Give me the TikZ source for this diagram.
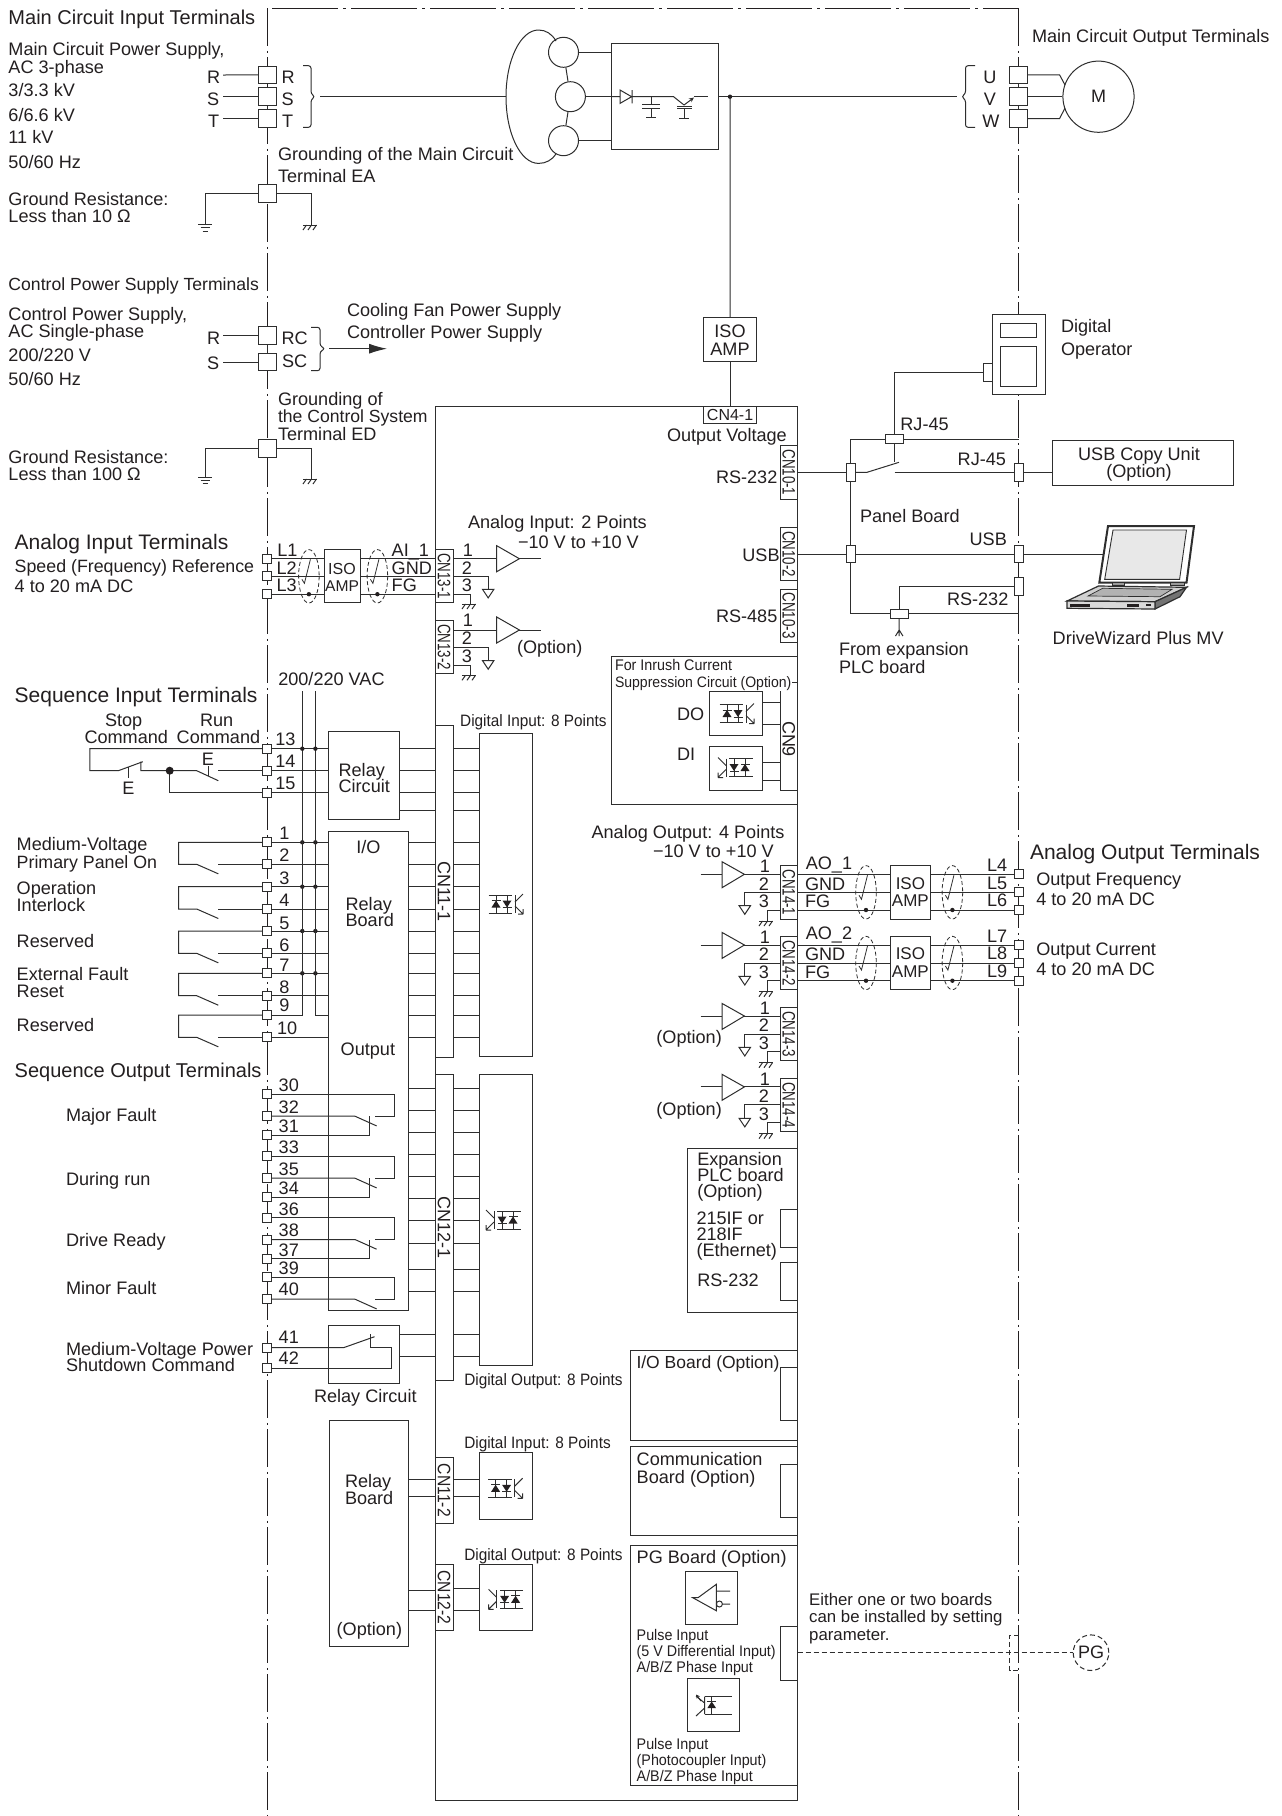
\documentclass[tikz,border=0pt]{standalone}
\usepackage{fontspec}
\usetikzlibrary{fit,arrows.meta}
\setmainfont{Liberation Sans}
\newfontfamily\fnarrow{Liberation Sans}[FakeStretch=.93]
\definecolor{ink}{HTML}{231F20}
\definecolor{wire}{HTML}{2E2E2E}
\newcounter{lc}
\tikzset{
  lbl/.style={anchor=base west,inner sep=0pt,outer sep=0pt,text=ink,font=\fontsize{18.1}{18}\selectfont},
  ctr/.style={anchor=base},
  big/.style={font=\fontsize{20}{20}\selectfont},
  bigger/.style={font=\fontsize{21}{21}\selectfont},
  mid/.style={font=\fontsize{16.8}{17}\selectfont},
  narrow/.style={font=\fnarrow\fontsize{15.4}{16}\selectfont},
  narrowb/.style={font=\fnarrow\fontsize{16.5}{17}\selectfont},
  bx/.style={draw=wire,line width=1pt,inner sep=0pt,outer sep=0pt},
  tbig/.style={draw=wire,line width=1pt,fill=white,minimum width=18pt,minimum height=17.6pt,inner sep=0pt,outer sep=0pt},
  tsm/.style={draw=wire,line width=1pt,fill=white,minimum width=9pt,minimum height=9pt,inner sep=0pt,outer sep=0pt},
  tpan/.style={draw=wire,line width=1pt,fill=white,minimum width=9pt,minimum height=17.7pt,inner sep=0pt,outer sep=0pt},
  tflat/.style={draw=wire,line width=1pt,fill=white,minimum width=18pt,minimum height=9pt,inner sep=0pt,outer sep=0pt},
  framev/.style={draw=ink,line width=1.3pt,dash pattern=on 38pt off 4.5pt on 2pt off 4.5pt},
  frameh/.style={draw=ink,line width=1.3pt,dash pattern=on 66pt off 5pt on 3pt off 5pt},
  longdash/.style={dash pattern=on 5pt off 3pt},
}
\newcommand\lab[4][]{\stepcounter{lc}\node[lbl,#1] (lab\arabic{lc}) at (#2,#3) {#4};}
\newcommand\bxn[5]{\node[bx,fit={(#2,#3)(#4,#5)}] (#1) {};}
\newcommand\cnbox[7]{\bxn{#1}{#2}{#3}{#4}{#5}\stepcounter{lc}\node[inner sep=0pt,rotate=-90,text=ink,font=\fontsize{18}{18}\selectfont] (lab\arabic{lc}) at (#1.center) {\scalebox{#7}[1]{#6}};}
\newcommand\bracer[6]{\draw[rounded corners=2.5pt] (#1,#4)--(#2,#4)--(#2,{#5-3})--(#3,#5)--(#2,{#5+3})--(#2,#6)--(#1,#6);}
\newcommand\gndhatch[2]{\draw (#1-7,#2)--(#1+7,#2);\foreach \k in {-5,0,5}{\draw (#1+\k+1.5,#2)--(#1+\k-2,#2+5);}}
\newcommand\gndtri[2]{\draw (#1-5.7,#2)--(#1+5.7,#2)--(#1,#2+8.6)--cycle;}
\newcommand\gndbars[2]{\draw (#1-7,#2)--(#1+7,#2) (#1-4.5,#2+3)--(#1+4.5,#2+3) (#1-2.5,#2+6.5)--(#1+2.5,#2+6.5);}
\newcommand\shield[3]{\draw[dash pattern=on 4pt off 2.5pt,line width=.8pt] (#1,#2) ellipse (10.3 and 26.7);
  \draw[line width=.8pt] (#1-7,#2+3)--(#1-4.5,#2+7)--(#1+1.5,#2-17);
  \fill (#1,#3) circle (2.2);}
% opto coupler: diodes and transistor
\newcommand\optoA[2]{\begin{scope}[shift={(#1,#2)}]
  \draw (-17.5,-9)--(6,-9) (-17.5,9)--(6,9) (-10,-9)--(-10,9) (1,-9)--(1,9) (9,-9)--(9,9);
  \fill (-10,-3.5)--(-5.5,3.5)--(-14.5,3.5)--cycle;
  \fill (1,3.5)--(5.5,-3.5)--(-3.5,-3.5)--cycle;
  \draw (-14.5,-3.5)--(-5.5,-3.5) (-3.5,3.5)--(5.5,3.5);
  \draw (9,-2)--(17,-10) (9,2)--(17,10) (17,10)--(17,5) (17,10)--(12,10);
  \end{scope}}
\newcommand\optoB[2]{\begin{scope}[shift={(#1,#2)},xscale=-1]
  \draw (-17.5,-9)--(6,-9) (-17.5,9)--(6,9) (-10,-9)--(-10,9) (1,-9)--(1,9) (9,-9)--(9,9);
  \fill (-10,-3.5)--(-5.5,3.5)--(-14.5,3.5)--cycle;
  \fill (1,3.5)--(5.5,-3.5)--(-3.5,-3.5)--cycle;
  \draw (-14.5,-3.5)--(-5.5,-3.5) (-3.5,3.5)--(5.5,3.5);
  \draw (9,-2)--(17,-10) (9,2)--(17,10) (17,10)--(17,5) (17,10)--(12,10);
  \end{scope}}
% analog output channel: amplifier, wires and connector
\newcommand\aochan[2]{\begin{scope}[shift={(0,#1)}]
  \draw (722,861.7)--(744.4,874.3)--(722,887.7)--cycle;
  \draw (700.6,874.3)--(722,874.3) (744.4,874.3)--(780,874.3);
  \draw (780,892.3)--(744.4,892.3)--(744.4,905.7);
  \gndtri{744.8}{905.7}
  \draw (780,910)--(767.7,910)--(767.7,921);
  \gndhatch{766}{921}
  \lab[ctr]{765}{872.6}{1}\lab[ctr]{764}{890}{2}\lab[ctr]{764}{907.7}{3}
  \cnbox{cnao#2}{780}{865.7}{797.6}{919}{CN14-#2}{.74}
  \end{scope}}
% isolated analog output wiring
\newcommand\aoline[8]{\begin{scope}[shift={(0,#1)}]
  \bxn{isoao#2}{890.6}{865.7}{930.3}{919}
  \lab[ctr,font=\fontsize{17}{17}\selectfont]{910.4}{889}{ISO}
  \lab[ctr,font=\fontsize{17}{17}\selectfont]{910.4}{906.7}{AMP}
  \node[tsm] (#6) at (1019,874.4) {};
  \node[tsm] (#7) at (1019,892.3) {};
  \node[tsm] (#8) at (1019,910) {};
  \draw (797.6,874.4)--(isoao#2.west |- #6);
  \draw (797.6,892.3)--(isoao#2.west |- #7);
  \draw (797.6,910)--(isoao#2.west |- #8);
  \draw (isoao#2.east |- #6)--(#6);
  \draw (isoao#2.east |- #7)--(#7);
  \draw (isoao#2.east |- #8)--(#8);
  \shield{866}{892.3}{910}
  \shield{952.4}{892.3}{910}
  \lab{805.8}{#3}{AO\_#2}
  \lab{805}{890}{GND}
  \lab{805}{907.7}{FG}
  \lab{987}{871.7}{#4}\lab{987}{889}{#5}
  \end{scope}}
\begin{document}
\begin{tikzpicture}[x=1pt,y=-1pt,line width=1pt,draw=wire,fill=ink]
\useasboundingbox (0,0) rectangle (1282,1816);
\fill[white] (0,0) rectangle (1282,1816);
% ---- enclosure
\draw[frameh] (272,8.3)--(1018.8,8.3);
\draw[framev] (267.3,8.3)--(267.3,1816);
\draw[framev] (1018.8,8.3)--(1018.8,1816);
% ---- main circuit input
\node[tbig] (tR) at (267.3,74.9) {};
\node[tbig] (tS) at (267.3,96.7) {};
\node[tbig] (tT) at (267.3,118.5) {};
\coordinate (lR) at (223,75);\coordinate (lS) at (223,96.7);\coordinate (lT) at (223,118.5);
\draw (lR)--(tR);\draw (lS)--(tS);\draw (lT)--(tT);
\lab{207}{83.3}{R}\lab{207}{105}{S}\lab{208}{127}{T}
\lab{281.5}{83.3}{R}\lab{281.5}{105}{S}\lab{282}{127}{T}
\bracer{303}{311}{315}{65.7}{96.7}{127.3}
\lab[big]{8.5}{24}{Main Circuit Input Terminals}
\lab{8.5}{55}{Main Circuit Power Supply,}
\lab{8.5}{73}{AC 3-phase}
\lab{8.5}{96}{3/3.3 kV}
\lab{8.5}{121}{6/6.6 kV}
\lab{8.5}{143}{11 kV}
\lab{8.5}{168}{50/60 Hz}
\lab{8.5}{205}{Ground Resistance:}
\lab{8.5}{222}{Less than 10 Ω}
% transformer
\node[draw=wire,circle,minimum size=30pt,inner sep=0pt] (c1) at (563.5,52.3) {};
\node[draw=wire,circle,minimum size=30pt,inner sep=0pt] (c2) at (570.4,96.7) {};
\node[draw=wire,circle,minimum size=30pt,inner sep=0pt] (c3) at (563.5,140.7) {};
\draw (c1)--(c2);\draw (c2)--(c3);
\draw (556,41) .. controls (552,34) and (546,30) .. (538.5,30) .. controls (520.5,30) and (506,60) .. (506,96.7) .. controls (506,133.5) and (520.5,163.4) .. (538.5,163.4) .. controls (546,163.4) and (552,160) .. (556,154);
\coordinate (wl) at (320,96.7);\coordinate (wm) at (506,96.7);
\draw (wl)--(wm);
\bxn{conv}{611}{43.7}{718}{149.7}
\draw (c1)--(c1 -| conv.west);\draw (c2)--(c2 -| conv.west);\draw (c3)--(c3 -| conv.west);
% converter symbols
\draw (611,96.7)--(620,96.7) (620,90)--(620,103.4)--(631.6,96.7)--cycle (632,90)--(632,103.4) (632,96.7)--(673.6,96.7)--(684,105);
\draw (651,96.7)--(651,104) (642,104)--(660,104) (642,108.3)--(660,108.3) (651,108.3)--(651,117.3) (646,117.3)--(656,117.3);
\draw (677,106)--(692,106) (677,108.5)--(692,108.5) (684,108.5)--(684,118) (679,118)--(689,118);
\draw[-{Stealth[length=5pt,width=4.5pt]}] (684,105)--(694,97.5);
\draw (694,96.7)--(708,96.7);
\coordinate (wo) at (957,96.7);\coordinate (wj) at (730,96.7);
\draw (718,96.7)--(wo);
\fill (wj) circle (2.2);
% ---- main circuit output
\node[tbig] (tU) at (1018.8,74.9) {};
\node[tbig] (tV) at (1018.8,96.7) {};
\node[tbig] (tW) at (1018.8,118.5) {};
\node[draw=wire,circle,minimum size=71.2pt,inner sep=0pt,text=ink,font=\fontsize{18}{18}\selectfont] (motor) at (1098.5,96.7) {M};
\draw (tU)--(1059.6,74.9)--(1065,85);
\draw (tV)--(motor);
\draw (tW)--(1059.6,118.5)--(1065,108);
\bracer{975}{965.5}{961.5}{65.7}{96.7}{127.3}
\lab[ctr]{990}{83.3}{U}\lab[ctr]{990}{105}{V}\lab[ctr]{991}{127}{W}
\lab{1032}{42.7}{Main Circuit Output Terminals}
% ---- grounding EA
\node[tbig] (tEA) at (267.3,193.7) {};
\coordinate (gl1) at (205,224);\coordinate (gr1) at (311,225);
\draw (tEA)--(tEA -| gl1)--(gl1);\draw (tEA)--(tEA -| gr1)--(gr1);
\gndbars{205}{224.7}\gndhatch{310}{225}
\lab{278}{160.7}{Grounding of the Main Circuit}
\lab{278}{182.3}{Terminal EA}
% ---- control power
\lab[font=\fontsize{17.6}{18}\selectfont]{8.5}{290}{Control Power Supply Terminals}
\lab{8.5}{320.7}{Control Power Supply,}
\lab{8.5}{337.7}{AC Single-phase}
\lab{8.5}{361.7}{200/220 V}
\lab{8.5}{385.7}{50/60 Hz}
\lab{207}{344.3}{R}\lab{207}{369.3}{S}
\node[tbig] (tRC) at (267.3,335.6) {};
\node[tbig] (tSC) at (267.3,362) {};
\coordinate (lRC) at (223,335.6);\coordinate (lSC) at (223,362);
\draw (lRC)--(tRC);\draw (lSC)--(tSC);
\lab{281.5}{344.3}{RC}\lab{282}{367.7}{SC}
\bracer{311}{320}{325}{327.3}{348.7}{370.7}
\coordinate (ca) at (329,348.7);\coordinate (cb) at (387,348.7);
\draw[-{Latex[length=18pt,width=10pt]}] (ca)--(cb);
\lab{347}{316}{Cooling Fan Power Supply}
\lab{347}{338.3}{Controller Power Supply}
% ---- grounding ED
\node[tbig] (tED) at (267.3,448.2) {};
\coordinate (gl2) at (205,476.7);\coordinate (gr2) at (311,479);
\draw (tED)--(tED -| gl2)--(gl2);\draw (tED)--(tED -| gr2)--(gr2);
\gndbars{205}{477}\gndhatch{310}{479}
\lab{278}{405}{Grounding of}
\lab[font=\fontsize{17.6}{18}\selectfont]{278}{422.7}{the Control System}
\lab{278}{440}{Terminal ED}
\lab{8.5}{463.3}{Ground Resistance:}
\lab{8.5}{480.7}{Less than 100 Ω}
% ---- controller enclosure
\bxn{ctrl}{435}{406}{797.6}{1800.7}
\bxn{isoV}{703.5}{317.3}{756.7}{361.7}
\lab[ctr]{730}{337.3}{ISO}\lab[ctr]{730}{355.7}{AMP}
\draw (wj)--(isoV);
\bxn{cnfour}{703.5}{406}{756.7}{423.3}
\stepcounter{lc}\node[text=ink,inner sep=0pt,font=\fontsize{16}{16}\selectfont] (lab\arabic{lc}) at (cnfour.center) {CN4-1};
\draw (isoV)--(cnfour);
\lab{667}{441}{Output Voltage}
\cnbox{cnA}{780}{445.7}{797.6}{499}{CN10-1}{.74}
\cnbox{cnB}{780}{527.3}{797.6}{580.7}{CN10-2}{.74}
\cnbox{cnC}{780}{589}{797.6}{642.3}{CN10-3}{.74}
\lab{716}{483.3}{RS-232}\lab{742.4}{561}{USB}\lab{716}{622.7}{RS-485}
% ---- panel board
\node[tpan] (p1) at (850.5,472.3) {};
\node[tpan] (p2) at (850.5,554) {};
\node[tflat] (rj) at (894.6,439.2) {};
\node[tflat] (pr) at (899.2,613.5) {};
\node[tpan] (u1) at (1019,472.3) {};
\node[tpan] (u2) at (1019,554) {};
\node[tpan] (u3) at (1019,586.7) {};
\coordinate (pa) at (850.5,439.2);\coordinate (pb) at (850.5,613.5);
\coordinate (ua) at (1018.8,439.2);\coordinate (ub) at (1018.8,613.5);
\draw (pa)--(p1);\draw (p1)--(p2);\draw (p2)--(pb)--(pr);
\draw (pa)--(rj);\draw (rj)--(ua);\draw (pr)--(ub);
\draw (cnA.east |- p1)--(p1);\draw (cnB.east |- p2)--(p2);
\draw (p1)--(867,472.3)--(899,462.3);
\draw (894.6,472.3)--(u1);
\draw (p2)--(u2);
\draw (rj)--(894.6,462.3);
\draw (rj)--(894.6,372.3)--(983,372.3);
\draw (u3)--(899.2,586.7)--(pr);
\draw (pr)--(899.2,636) (899.2,630)--(895.5,636) (899.2,630)--(902.9,636);
\lab{860}{522.7}{Panel Board}
\lab{969.6}{545}{USB}
\lab{947}{605}{RS-232}
\lab{839}{655}{From expansion}
\lab{839}{673.3}{PLC board}
\lab{900.4}{430}{RJ-45}
\lab{957.7}{465}{RJ-45}
% ---- digital operator
\node[draw=wire,fill=white,inner sep=0pt,fit={(992,314.3)(1045.3,394.7)}] (dop) {};
\bxn{dopa}{1000.3}{323.3}{1036.3}{337.3}
\bxn{dopb}{1000.3}{346}{1036.3}{386}
\bxn{dopt}{983}{363.3}{992}{381}
\lab{1061}{332.7}{Digital}\lab{1061}{355}{Operator}
% ---- USB copy
\bxn{copy}{1052.3}{440.7}{1233}{485.7}
\lab[ctr]{1139}{460}{USB Copy Unit}\lab[ctr]{1139}{477.7}{(Option)}
\draw (u1)--(u1 -| copy.west);
% ---- laptop
\draw[fill=white,line width=2pt] (1108,526)--(1194,526)--(1186.5,582.7)--(1099.3,582.7)--cycle;
\draw[fill=black!9,line width=.9pt] (1113,530)--(1186.5,530)--(1179.6,579.3)--(1104.7,579.3)--cycle;
\draw[fill=black!40,line width=.7pt] (1112,582.7) rectangle (1124,585.7) (1170,582.7) rectangle (1184,585.7);
\draw[fill=black!18,line width=1.2pt] (1067,601)--(1098.5,586)--(1186.5,587.3)--(1155,601.7)--cycle;
\draw[fill=black!30,line width=.7pt] (1088,596)--(1102.6,588.3)--(1172,589.3)--(1160,596.7)--cycle;
\draw[fill=black!55,line width=1.2pt] (1155,601.7)--(1186.5,587.3)--(1180,596.7)--(1155,609)--cycle;
\draw[fill=black!15,line width=1.2pt] (1067,601)--(1155,601.7)--(1155,609)--(1067,608.3)--cycle;
\fill (1070,603.5) rectangle (1090,607);
\fill (1127,603.5) rectangle (1139,606.5);
\fill (1146,604) rectangle (1151,606);
\draw (u2)--(1103.7,554);
\lab{1052.7}{644}{DriveWizard Plus MV}
% ---- analog input
\lab[bigger]{14.7}{549.3}{Analog Input Terminals}
\lab[font=\fontsize{17.8}{18}\selectfont]{14.7}{572.7}{Speed (Frequency) Reference}
\lab{14.7}{592.7}{4 to 20 mA DC}
\node[tsm] (tL1) at (267.3,558.8) {};
\node[tsm] (tL2) at (267.3,576.4) {};
\node[tsm] (tL3) at (267.3,594.2) {};
\bxn{isoI}{324.4}{549.3}{360}{602.7}
\cnbox{cnIa}{435.3}{549.3}{453}{602.7}{CN13-1}{.74}
\cnbox{cnIb}{435.3}{620.7}{453}{673.3}{CN13-2}{.74}
\foreach \n in {1,2,3}{
  \draw (tL\n)--(tL\n -| isoI.west);
  \draw (tL\n -| isoI.east)--(tL\n -| cnIa.west);
}
\shield{308.9}{576.3}{594.2}
\shield{377.4}{576.3}{594.2}
\lab{277.4}{556.7}{L1}\lab{276.5}{574}{L2}\lab{276.5}{591.7}{L3}
\lab[ctr,font=\fontsize{16}{16}\selectfont]{342}{574}{ISO}\lab[ctr,font=\fontsize{15.6}{16}\selectfont]{342}{591}{AMP}
\lab{391.7}{556.7}{AI\_1}\lab{391.7}{574}{GND}\lab{391.7}{591.7}{FG}
\foreach \dy/\a/\b/\c in {0/556/574/591.7,71.3/626.7/644.3/662.3}{
  \begin{scope}[shift={(0,\dy)}]
  \draw (496.7,545.7)--(519.4,558.7)--(496.7,571.7)--cycle;
  \draw (453,558.7)--(496.7,558.7) (519.4,558.7)--(541.4,558.7);
  \draw (453,576.4)--(488.2,576.4)--(488.2,589.3);
  \gndtri{488.2}{589.3}
  \draw (453,594.2)--(470.4,594.2)--(470.4,604);
  \gndhatch{469}{604}
  \end{scope}
  \lab[ctr]{468}{\a}{1}\lab[ctr]{467}{\b}{2}\lab[ctr]{467}{\c}{3}
}
\lab{468}{528.3}{Analog Input: 2 Points}
\lab{518}{548.3}{−10 V to +10 V}
\lab{517}{653.3}{(Option)}
% ---- sequence input
\lab{278.3}{685.7}{200/220 VAC}
\lab[bigger]{14.7}{702.3}{Sequence Input Terminals}
\lab{105}{726.7}{Stop}\lab{84.5}{743.3}{Command}
\lab{200}{726.7}{Run}\lab{176.7}{743.3}{Command}
\node[tsm] (t13) at (267.3,748.7) {};
\node[tsm] (t14) at (267.3,770.7) {};
\node[tsm] (t15) at (267.3,792.8) {};
\lab{275.4}{745.7}{13}\lab{275.4}{767.7}{14}\lab{275.4}{789.3}{15}
\bxn{relA}{328.8}{731}{399.8}{819.3}
\lab{338.6}{776}{Relay}\lab{338.6}{792.7}{Circuit}
\bxn{io}{328.8}{831.7}{408.4}{1310}
\lab[ctr]{368.4}{853.3}{I/O}\lab{345.6}{910}{Relay}\lab{345.6}{926.7}{Board}\lab{340.7}{1055}{Output}
\cnbox{cnD}{435.3}{725.7}{453}{1057.3}{CN11-1}{1}
\bxn{optoI}{479.5}{733.3}{532.4}{1056.7}
\lab[narrowb]{460.2}{726.7}{Digital Input: 8 Points}
\optoA{506}{904}
% vertical supply rails
\coordinate (vA) at (302.3,691);\coordinate (vB) at (315.4,691);
\coordinate (lx) at (178.7,0);\coordinate (sw) at (196.7,0);\coordinate (se) at (218.3,0);
% stop / run
\draw (t13)--(89.8,748.7)--(89.8,770.7)--(118.3,770.7)--(142.8,761.7);
\draw (140.8,761.7)--(140.8,770.7)--(169.7,770.7)--(196.7,770.7)--(218.3,780.7);
\draw (218.3,770.7)--(t14);
\draw (169.7,770.7)--(169.7,792.8)--(t15);
\fill (169.7,770.7) circle (4);
\draw (128.5,766.5)--(128.5,778) (208,766)--(208,776);
\lab[ctr]{128.5}{794}{E}\lab[ctr]{208}{765}{E}
\draw (t13)--(t13 -| relA.west);\draw (t14)--(t14 -| relA.west);\draw (t15)--(t15 -| relA.west);
\foreach \y in {748.5,770.7,792.8,810.7}{
  \draw (relA.east |- 0,\y)--(cnD.west |- 0,\y);
  \draw (cnD.east |- 0,\y)--(optoI.west |- 0,\y);
}
\foreach \n/\y in {1/842.3,2/864.3,3/886.7,4/909,5/931,6/953.3,7/973.3,8/995.7,9/1015,10/1037.3}{
  \node[tsm] (t\n) at (267.3,\y) {};
  \draw (io.east |- t\n)--(cnD.west |- t\n);
  \draw (cnD.east |- t\n)--(optoI.west |- t\n);
}
\foreach \a/\b in {1/2,3/4,5/6,7/8,9/10}{
  \draw (t\a)--(t\a -| lx)--(t\b -| lx)--(t\b -| sw)--([shift={(21.6,9.5)}]t\b -| sw);
  \draw (t\b -| se)--(t\b)--(t\b -| io.west);
}
\foreach \a in {1,3,5,7}{
  \draw (t\a)--(t\a -| io.west);
  \fill (t\a -| vA) circle (2.2);
  \fill (t\a -| vB) circle (2.2);
}
\draw (t9)--(t9 -| vA)--(vA);
\draw (t9 -| io.west)--(t9 -| vB)--(vB);
\fill (t13 -| vA) circle (2.2);\fill (t13 -| vB) circle (2.2);
\foreach \n/\y in {1/839.3,2/861.7,3/884,4/906.7,5/929,6/951,7/971,8/993,9/1011.7}{
  \lab[ctr]{284.4}{\y}{\n}
}
\lab{277}{1034}{10}
\lab{16.7}{850.7}{Medium-Voltage}\lab[font=\fontsize{17.8}{18}\selectfont]{16.7}{868.3}{Primary Panel On}
\lab{16.7}{894}{Operation}\lab{16.7}{911.7}{Interlock}
\lab{16.7}{947.7}{Reserved}
\lab{16.7}{980.7}{External Fault}\lab{16.7}{997.3}{Reset}
\lab{16.7}{1031.7}{Reserved}
% ---- sequence output
\lab[big]{14.7}{1077.3}{Sequence Output Terminals}
\cnbox{cnE}{435.3}{1074.7}{453}{1380.7}{CN12-1}{1}
\bxn{optoO}{479.5}{1074.7}{532.4}{1365}
\optoB{503}{1220}
\foreach \n/\y/\b in {30/1094.3/1091.7,32/1116.2/1113.3,31/1135/1132.7,33/1156.3/1153.3,35/1178.2/1175,34/1197.3/1194.3,36/1217.7/1215.3,38/1239.5/1236,37/1258.7/1256.7,39/1277/1274,40/1299.2/1295,41/1347.7/1343.3,42/1368.3/1364}{
  \node[tsm] (t\n) at (267.3,\y) {};
  \lab{278.7}{\b}{\n}
}
\coordinate (cR) at (394,0);\coordinate (cL) at (375.4,0);\coordinate (cS) at (355,0);\coordinate (cV) at (369.2,0);
\foreach \a/\b/\c in {30/32/31,33/35/34,36/38/37}{
  \draw (t\a)--(t\a -| cR)--(t\b -| cR)--(t\b -| cL);
  \draw (t\b)--(t\b -| cS)--([shift={(21.6,9.7)}]t\b -| cS);
  \draw (t\c)--(t\c -| cV)--(t\b -| cV);
}
\draw (t39)--(t39 -| cR)--(t40 -| cR)--(t40 -| cL);
\draw (t40)--(t40 -| cS)--([shift={(21.6,9.7)}]t40 -| cS);
\foreach \y in {1088.3,1110.3,1132.3,1154.3,1176.3,1198.3,1220.7,1243,1269.3,1291.3}{
  \draw (io.east |- 0,\y)--(cnE.west |- 0,\y);
  \draw (cnE.east |- 0,\y)--(optoO.west |- 0,\y);
}
\lab{66}{1121.7}{Major Fault}
\lab{66}{1185}{During run}
\lab{66}{1246.7}{Drive Ready}
\lab{66}{1294}{Minor Fault}
\lab{66}{1355}{Medium-Voltage Power}
\lab{66}{1371.7}{Shutdown Command}
\bxn{relB}{328.8}{1325.7}{399.8}{1383.3}
\draw (t41)--(343.5,1347.7)--(374.5,1336.7);
\draw (370,1334)--(370,1347.7)--(391.7,1347.7)--(391.7,1368.3)--(t42);
\foreach \y in {1334.3,1356.7}{
  \draw (relB.east |- 0,\y)--(cnE.west |- 0,\y);
  \draw (cnE.east |- 0,\y)--(optoO.west |- 0,\y);
}
\lab{314}{1402.7}{Relay Circuit}
\lab[narrowb]{464.3}{1385}{Digital Output: 8 Points}
% ---- optional relay board
\bxn{relC}{329}{1420.7}{408.7}{1646}
\lab{345}{1487.3}{Relay}\lab{345}{1504.3}{Board}\lab{336.7}{1635}{(Option)}
\cnbox{cnF}{435.3}{1457.3}{453}{1523.3}{CN11-2}{.87}
\cnbox{cnG}{435.3}{1564.3}{453}{1630.7}{CN12-2}{.87}
\bxn{optoP}{479.6}{1452.7}{532.7}{1519}
\bxn{optoQ}{479.6}{1564.3}{532.7}{1630.7}
\optoA{505.6}{1488.3}
\optoB{505.6}{1599.3}
\foreach \y in {1479.3,1496.7}{
  \draw (relC.east |- 0,\y)--(cnF.west |- 0,\y);
  \draw (cnF.east |- 0,\y)--(optoP.west |- 0,\y);
}
\draw (relC.east |- 0,1590.7)--(cnG.west |- 0,1590.7);
\draw (relC.east |- 0,1610.7)--(cnG.west |- 0,1610.7);
\draw (cnG.east |- 0,1588.3)--(optoQ.west |- 0,1588.3);
\draw (cnG.east |- 0,1610.7)--(optoQ.west |- 0,1610.7);
\lab[narrowb]{464.3}{1448.3}{Digital Input: 8 Points}
\lab[narrowb]{464.3}{1560}{Digital Output: 8 Points}
% ---- inrush box
\bxn{inr}{611}{656}{797.6}{804}
\lab[narrow]{615}{670.7}{For Inrush Current}
\lab[font=\fnarrow\fontsize{15.1}{16}\selectfont]{615}{687.7}{Suppression Circuit (Option)}
\lab{677}{720}{DO}\lab{677}{760.7}{DI}
\bxn{dobox}{709.6}{691.3}{762}{735.3}
\bxn{dibox}{709.6}{746.7}{762}{790.7}
\optoA{737}{713.5}
\optoB{735}{767.5}
\draw (780,691.3)--(780,790.7)--(797.6,790.7) (792,682)--(797.6,682);
\stepcounter{lc}\node[inner sep=0pt,rotate=-90,text=ink,font=\fontsize{18}{18}\selectfont] (lab\arabic{lc}) at (788.8,739) {CN9};
\draw (dobox.east |- 0,702.3)--(780,702.3);
\draw (dobox.east |- 0,724.3)--(780,724.3);
\draw (dibox.east |- 0,762.3)--(780,762.3);
\draw (dibox.east |- 0,780)--(780,780);
% ---- analog output
\lab{591.6}{838.3}{Analog Output: 4 Points}
\lab{653}{857}{−10 V to +10 V}
\aochan{0}{1}\aochan{70.7}{2}\aochan{141.7}{3}\aochan{212.6}{4}
\aoline{0}{1}{869}{L4}{L5}{tLiv}{tLv}{tLvi}
\lab{987}{906.7}{L6}
\aoline{70.7}{2}{868.3}{L7}{L8}{tLvii}{tLviii}{tLix}
\lab{987}{977.4}{L9}
\lab[bigger]{1030}{859}{Analog Output Terminals}
\lab{1036.3}{885.7}{Output Frequency}
\lab{1036.3}{905.7}{4 to 20 mA DC}
\lab{1036.3}{955}{Output Current}
\lab{1036.3}{975}{4 to 20 mA DC}
\lab{656.4}{1043.3}{(Option)}
\lab{656.4}{1115}{(Option)}
% ---- expansion PLC
\bxn{plc}{687}{1148.3}{797.6}{1312.3}
\lab{697.3}{1165.7}{Expansion}\lab{697.3}{1181.7}{PLC board}\lab{697.3}{1197.7}{(Option)}
\lab{696.5}{1224}{215IF or}\lab{696.5}{1240}{218IF}\lab{696.5}{1256}{(Ethernet)}
\lab{697.3}{1286.7}{RS-232}
\bxn{plca}{780}{1209.3}{797.6}{1247.3}
\bxn{plcb}{780}{1262.7}{797.6}{1300}
% ---- I/O board
\bxn{iob}{630}{1350}{797.6}{1440.7}
\lab[font=\fontsize{17.5}{18}\selectfont]{636.5}{1368.3}{I/O Board (Option)}
\bxn{iobs}{780}{1367.7}{797.6}{1420.7}
% ---- communication board
\bxn{comb}{630}{1446.7}{797.6}{1535.7}
\lab{636.7}{1465}{Communication}\lab{636.7}{1483.3}{Board (Option)}
\bxn{combs}{780}{1464}{797.6}{1517.3}
% ---- PG board
\bxn{pgb}{630}{1545.7}{797.6}{1785.7}
\lab{636.7}{1563.3}{PG Board (Option)}
\bxn{pgs}{780}{1626.7}{797.6}{1680}
\bxn{pga}{685.7}{1571}{737.8}{1624.3}
\bxn{pgc}{687.2}{1678.3}{739.8}{1731.3}
\draw (692.8,1597.7)--(698,1597.7)--(716.3,1584.3)--(716.3,1610.7)--cycle (716.3,1591)--(730,1591) (722.5,1604)--(730,1604);
\draw (719.4,1604) circle (3);
\draw (704.6,1696.7)--(704.6,1714) (704.6,1703)--(696,1696) (704.6,1708)--(696,1716);
\draw[-{Stealth[length=4pt,width=4pt]}] (701,1701)--(696,1694.5);
\draw (704.6,1696.3)--(731.6,1696.3) (711.7,1696.3)--(711.7,1714) (704.6,1714)--(731.6,1714);
\fill (711.7,1701.5)--(716,1708)--(707.4,1708)--cycle;
\draw (707,1701.5)--(716,1701.5);
\lab[narrow]{636.7}{1640.7}{Pulse Input}
\lab[narrow]{636.7}{1656.7}{(5 V Differential Input)}
\lab[narrow]{636.7}{1672.7}{A/B/Z Phase Input}
\lab[narrow]{636.7}{1749}{Pulse Input}
\lab[narrow]{636.7}{1765}{(Photocoupler Input)}
\lab[narrow]{636.7}{1781}{A/B/Z Phase Input}
\lab[mid]{809.2}{1605}{Either one or two boards}
\lab[mid]{809.2}{1622.3}{can be installed by setting}
\lab[mid]{809.2}{1640}{parameter.}
% ---- PG
\node[draw=wire,longdash,circle,minimum size=35.6pt,inner sep=0pt,text=ink,font=\fontsize{18}{18}\selectfont] (pg) at (1091,1652.7) {PG};
\draw[longdash] (pgs.east |- pg)--(pg);
\draw[longdash] (1018.8,1635)--(1009.7,1635)--(1009.7,1670.7)--(1018.8,1670.7);
\draw (tS)--(tT);\draw (tU)--(tV);\draw (tV)--(tW);\draw (tRC)--(tSC);
\end{tikzpicture}
\end{document}
